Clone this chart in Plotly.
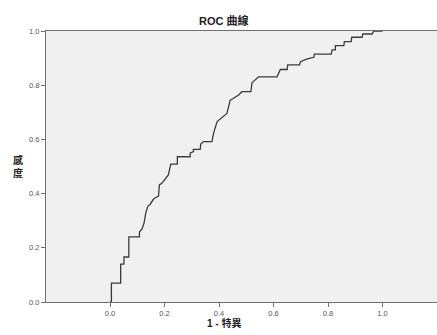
import plotly.graph_objects as go

# ROC curve points (1 - specificity, sensitivity)
fpr = [0.0, 0.005, 0.005, 0.039, 0.039, 0.051, 0.051, 0.069, 0.069, 0.108, 0.108,
       0.117, 0.125, 0.131, 0.139, 0.147, 0.159, 0.165, 0.178, 0.181, 0.190, 0.202,
       0.214, 0.223, 0.247, 0.247, 0.294, 0.294, 0.306, 0.306, 0.331, 0.333, 0.343,
       0.374, 0.380, 0.393, 0.429, 0.441, 0.449, 0.472, 0.484, 0.517, 0.521, 0.545,
       0.613, 0.625, 0.650, 0.652, 0.696, 0.699, 0.721, 0.748, 0.750, 0.812, 0.815,
       0.827, 0.827, 0.858, 0.860, 0.885, 0.887, 0.925, 0.928, 0.962, 0.968, 1.0]
tpr = [0.0, 0.0, 0.070, 0.070, 0.140, 0.140, 0.166, 0.166, 0.240, 0.240, 0.258,
       0.269, 0.292, 0.328, 0.354, 0.360, 0.379, 0.384, 0.391, 0.432, 0.438, 0.453,
       0.469, 0.509, 0.509, 0.536, 0.536, 0.549, 0.555, 0.563, 0.563, 0.583, 0.592,
       0.592, 0.623, 0.666, 0.696, 0.745, 0.749, 0.764, 0.776, 0.776, 0.809, 0.831,
       0.831, 0.858, 0.858, 0.875, 0.875, 0.887, 0.896, 0.903, 0.915, 0.915, 0.930,
       0.930, 0.946, 0.946, 0.961, 0.961, 0.977, 0.977, 0.989, 0.989, 1.0, 1.0]

tick_vals = [0.0, 0.2, 0.4, 0.6, 0.8, 1.0]
title_text = "ROC 曲線"
x_title = "1 - 特異"
y_title = "感<br>度"

FONT = "Liberation Sans, Arial, Noto Sans CJK TC, sans-serif"

fig = go.Figure()
fig.add_trace(go.Scatter(x=fpr, y=tpr, mode="lines",
                         line=dict(color="#3a3a3a", width=1.3),
                         hoverinfo="skip", showlegend=False))

fig.update_layout(
    width=437, height=335,
    margin=dict(l=46, r=0, t=31, b=33),
    paper_bgcolor="white",
    plot_bgcolor="#f0f0f0",
    font=dict(family=FONT, size=8, color="#555555"),
    xaxis=dict(range=[-0.235, 1.2], tickvals=tick_vals, tickformat=".1f",
               showgrid=False, zeroline=False, showline=True, linecolor="#707070",
               linewidth=1.2, mirror=True, ticks="outside", ticklen=4,
               tickcolor="#707070", tickfont=dict(size=7.5, color="#555555"),
               automargin=False),
    yaxis=dict(range=[0, 1], tickvals=tick_vals, tickformat=".1f",
               showgrid=False, zeroline=False, showline=True, linecolor="#707070",
               linewidth=1.2, ticks="outside", ticklen=4,
               tickcolor="#707070", tickfont=dict(size=7.5, color="#555555"),
               automargin=False),
    annotations=[
        dict(text="<b>" + title_text + "</b>", xref="paper", yref="paper",
             x=0.455, y=1.0, yanchor="middle", yshift=11, showarrow=False,
             font=dict(size=11, color="#222222", family=FONT)),
        dict(text="<b>" + x_title + "</b>", xref="paper", yref="paper",
             x=0.455, y=0, yanchor="middle", yshift=-21, showarrow=False,
             font=dict(size=10, color="#222222", family=FONT)),
        dict(text="<b>" + y_title + "</b>", xref="paper", yref="paper",
             x=0, xanchor="center", xshift=-28, y=0.5, yanchor="middle",
             showarrow=False,
             font=dict(size=10, color="#222222", family=FONT)),
    ],
)

fig.write_html("out.html", config={"displayModeBar": False},
               post_script="document.body.style.margin='0';document.body.style.overflow='hidden';")
